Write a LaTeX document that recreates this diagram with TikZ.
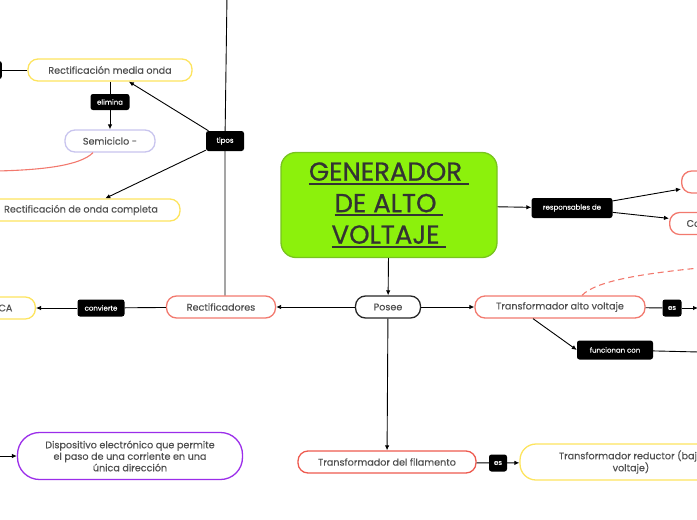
\documentclass[tikz,border=0pt]{standalone}
\usepackage{fontspec}
\setmainfont{Poppins}
\newfontfamily\titlefont{Poppins}[FakeBold=0.8]
\newfontfamily\topicfont{Poppins}[FakeBold=0.25]
\usetikzlibrary{arrows.meta}

\definecolor{textgray}{HTML}{505050}
\definecolor{titlegray}{HTML}{333333}
\definecolor{yellowline}{HTML}{FDE45E}
\definecolor{salmonline}{HTML}{F2796E}
\definecolor{redline}{HTML}{EE5A4F}
\definecolor{lavenderline}{HTML}{C8C4EE}
\definecolor{purpleline}{HTML}{9B2DEA}
\definecolor{greenfill}{HTML}{8CF10C}
\definecolor{greenline}{HTML}{78C41E}

% thick underline for the title
\newcommand{\titleline}[1]{\setbox0\hbox{#1}\rlap{\rule[-4pt]{\wd0}{1.8pt}}\box0}

\begin{document}
\begin{tikzpicture}[x=1pt, y=-1pt,
    % Styles
    topic/.style={draw=#1, fill=white, line width=1.3pt, rounded corners=10pt, minimum height=22pt, inner xsep=6pt, font=\topicfont\fontsize{9.6}{12}\selectfont, text=textgray, align=center},
    link-label/.style={fill=black, text=white, rounded corners=2.5pt, font=\topicfont\fontsize{7}{8}\selectfont, minimum height=17pt, inner xsep=3pt},
    link-arrow/.style={-{Latex[length=5pt,width=4.5pt]}, line width=0.9pt},
    link-line/.style={line width=0.9pt},
    red-curve/.style={line width=1.1pt, salmonline},
]
\useasboundingbox (0,0) rectangle (697,520);

% Central topic
\node[draw=greenline, fill=greenfill, line width=1.3pt, rounded corners=15pt, minimum width=216pt, minimum height=105pt, align=center, text=titlegray, font=\titlefont\fontsize{26}{31.5}\selectfont] (generador) at (389,205)
    {\titleline{GENERADOR }\\\titleline{DE ALTO }\\\titleline{VOLTAJE }};

% LEFT: Rectificadores
\node[topic=salmonline, minimum width=109pt] (rectificadores) at (221,307) {Rectificadores};
\node[topic=yellowline, minimum width=164pt] (media) at (110,70) {Rectificación media onda};
\node[topic=lavenderline, minimum width=90pt] (semiciclo) at (110,141) {Semiciclo -};
\node[topic=yellowline, minimum width=198pt] (completa) at (81,210) {Rectificación de onda completa};
\node[topic=yellowline, anchor=east, text width=40pt, align=right, inner xsep=23pt] (ca) at (36,308) {CA};
\node[topic=purpleline, minimum width=225pt, minimum height=47pt, rounded corners=22pt, font=\topicfont\fontsize{9.6}{11.5}\selectfont] (dispositivo) at (130,456)
    {Dispositivo electrónico que permite\\el paso de una corriente en una\\única dirección};

\node[link-label, minimum width=38pt, minimum height=20pt] (tipos) at (225,141) {tipos};
\node[link-label, minimum width=39pt, minimum height=16pt] (elimina) at (110,102) {elimina};
\node[link-label, minimum width=47pt] (convierte) at (101,308) {convierte};
\node[link-label, anchor=east, minimum width=20pt, minimum height=18pt] (media-tag) at (2,70) {};

\coordinate (tipos-top) at (227,-5);
\coordinate (curve-end) at (-3,171);
\coordinate (dispositivo-start) at (-5,456);

\draw[link-line] (tipos-top) -- (tipos) -- (tipos |- rectificadores.north);
\draw[link-arrow] (tipos) -- (media);
\draw[link-arrow] (tipos) -- (completa);
\draw[link-line] (media-tag) -- (media);
\draw[link-line] (media) -- (elimina);
\draw[link-arrow] (elimina) -- (semiciclo);
\draw[red-curve] ([xshift=-17pt]semiciclo.south) .. controls (80,166) and (40,170) .. (curve-end);
\draw[link-line] (rectificadores) -- (convierte);
\draw[link-arrow] (convierte) -- (ca);
\draw[link-arrow] (dispositivo-start) -- (dispositivo);

% MIDDLE: Posee
\node[topic=black!85, minimum width=65pt] (posee) at (388,307) {Posee};
\node[topic=redline, minimum width=178pt] (filamento) at (387,462) {Transformador del filamento};
\node[topic=yellowline, minimum width=222pt, minimum height=36pt, rounded corners=16pt] (reductor) at (631,462)
    {Transformador reductor (bajo\\voltaje)};
\node[link-label, minimum width=18pt] (es-filamento) at (498,463) {es};

\draw[link-arrow] (generador) -- (posee);
\draw[link-arrow] (posee) -- (rectificadores);
\draw[link-arrow] (posee) -- (filamento);
\draw[link-line] (filamento) -- (es-filamento);
\draw[link-arrow] (es-filamento) -- (reductor);

% RIGHT: Transformador alto voltaje
\node[topic=salmonline, minimum width=170pt] (alto) at (560,307) {Transformador alto voltaje};
\node[link-label, minimum width=19pt] (es-alto) at (672,308) {es};
\node[link-label, minimum width=76pt, minimum height=19pt] (funcionan) at (615,350) {funcionan con};
\coordinate (es-alto-end) at (698,308);
\coordinate (funcionan-end) at (699,352);
\coordinate (dashed-end) at (699,268);

\draw[link-arrow] (posee) -- (alto);
\draw[link-line] (alto) -- (es-alto);
\draw[link-arrow] (es-alto) -- (es-alto-end);
\draw[link-arrow] ([xshift=-27pt]alto.south) -- (funcionan.west);
\draw[link-line] (funcionan) -- (funcionan-end);
\draw[red-curve, dashed, dash pattern=on 6pt off 4pt] ([xshift=22pt]alto.north) .. controls (596,281) and (640,274) .. (dashed-end);

% TOP RIGHT: responsables de
\node[link-label, minimum width=81pt, minimum height=20pt] (responsables) at (572,208) {responsables de};
\node[topic=salmonline, anchor=west, minimum width=80pt] (resp-a) at (681,182) {};
\node[topic=salmonline, anchor=west, text width=60pt, align=left, inner xsep=17pt] (resp-b) at (669,223.5) {Co};

\draw[link-arrow] (generador) -- (responsables);
\draw[link-arrow] (responsables) -- (resp-a);
\draw[link-arrow] (responsables) -- (resp-b);

\end{tikzpicture}
\end{document}
